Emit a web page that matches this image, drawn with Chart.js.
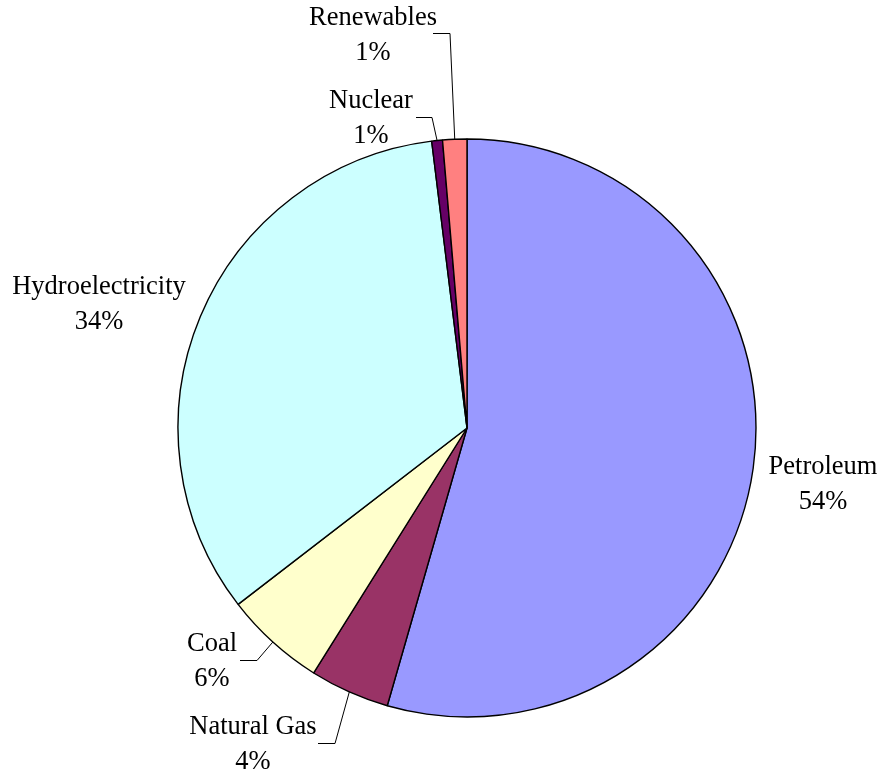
<!DOCTYPE html>
<html>
<head>
<meta charset="utf-8">
<script src="https://cdn.jsdelivr.net/npm/chart.js@4"></script>
<style>
    html, body { margin: 0; padding: 0; background: #fff; }
    #contenedor { width: 881px; height: 773px; }
</style>
</head>
<body>
<div id="contenedor"><canvas id="grafica-energia" width="881" height="773"></canvas></div>
<script>
// Consumo de energía por fuente (%)
const categorias = ['Petroleum', 'Natural Gas', 'Coal', 'Hydroelectricity', 'Nuclear', 'Renewables'];
const valores = [54.45, 4.45, 5.65, 33.5, 0.6, 1.35];
const colores = ['#9999FF', '#993366', '#FFFFCC', '#CCFFFF', '#660066', '#FF8080'];

// Dónde va cada etiqueta y, si lleva línea guía, el tramo horizontal [x1, x2, y]
const posicionEtiquetas = [
    { x: 823, y: 467 },
    { x: 253, y: 727, guia: [318, 335, 743] },
    { x: 212, y: 644, guia: [240, 257, 660] },
    { x: 99, y: 287 },
    { x: 371, y: 101, guia: [416, 432, 117] },
    { x: 373, y: 18, guia: [433, 450, 33] }
];

const etiquetasPlugin = {
    id: 'etiquetas',
    afterDatasetsDraw(chart) {
        const ctx = chart.ctx;
        const arcos = chart.getDatasetMeta(0).data;
        const total = valores.reduce((s, v) => s + v, 0);

        ctx.save();
        ctx.font = '26.5px "Liberation Serif", "Times New Roman", serif';
        ctx.fillStyle = '#000';
        ctx.strokeStyle = '#000';
        ctx.lineWidth = 1;
        ctx.textAlign = 'center';
        ctx.textBaseline = 'middle';

        arcos.forEach((arco, i) => {
            const pos = posicionEtiquetas[i];
            const pct = Math.round(valores[i] / total * 100) + '%';
            ctx.fillText(categorias[i], pos.x, pos.y);
            ctx.fillText(pct, pos.x, pos.y + 35);

            if (pos.guia) {
                const { x, y, startAngle, endAngle, outerRadius } =
                    arco.getProps(['x', 'y', 'startAngle', 'endAngle', 'outerRadius'], true);
                const medio = (startAngle + endAngle) / 2;
                const px = x + Math.cos(medio) * outerRadius;
                const py = y + Math.sin(medio) * outerRadius;
                const [x1, x2, gy] = pos.guia;
                ctx.beginPath();
                ctx.moveTo(x1, gy + 0.5);
                ctx.lineTo(x2, gy + 0.5);
                ctx.lineTo(px, py);
                ctx.stroke();
            }
        });
        ctx.restore();
    }
};

new Chart(document.getElementById('grafica-energia'), {
    type: 'pie',
    data: {
        labels: categorias,
        datasets: [{
            data: valores,
            backgroundColor: colores,
            borderColor: '#000',
            borderWidth: 1.4
        }]
    },
    options: {
        responsive: false,
        animation: false,
        radius: 289,
        layout: { padding: { left: 178, right: 125, top: 139, bottom: 56 } },
        plugins: {
            legend: { display: false },
            tooltip: { enabled: false }
        }
    },
    plugins: [etiquetasPlugin]
});
</script>
</body>
</html>
